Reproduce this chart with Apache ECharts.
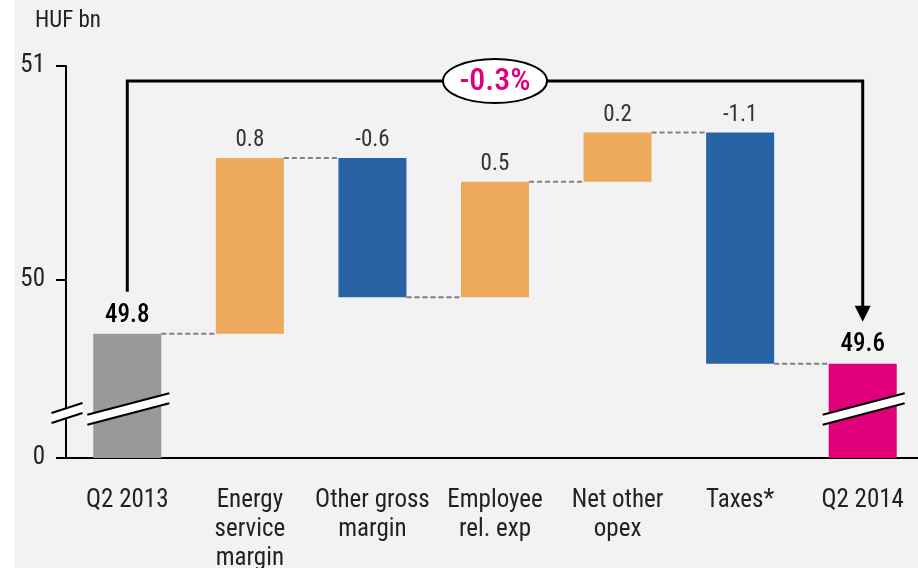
<!DOCTYPE html>
<html>
<head>
<meta charset="utf-8">
<script src="https://cdn.jsdelivr.net/npm/echarts@6/dist/echarts.min.js"></script>
<style>
  html, body { margin: 0; padding: 0; background: #fff; }
  #main { width: 918px; height: 568px; }
</style>
</head>
<body>
<div id="main"></div>
<script>
var categories = ['Q2 2013', 'Energy\nservice\nmargin', 'Other gross\nmargin', 'Employee\nrel. exp', 'Net other\nopex', 'Taxes*', 'Q2 2014'];
var valueLabels = ['49.8', '0.8', '-0.6', '0.5', '0.2', '-1.1', '49.6'];
// running total after each step, as drawn on the chart
var levels = [49.75, 50.57, 49.92, 50.46, 50.69, 49.61, 49.61];
var kinds = ['start', 'up', 'down', 'up', 'up', 'down', 'end'];
// broken axis: the bottom of the axis stands for 0
var axisMin = 49.17;
var axisMax = 51;
var tickValues = [49.17, 50, 51];
var tickLabels = ['0', '50', '51'];
var changeLabel = '-0.3%';

var FONT = '"Liberation Sans Narrow", "Roboto Condensed", "Liberation Sans", sans-serif';
var colors = { start: '#999999', up: '#eeaa5c', down: '#2763a5', end: '#e2007a' };

var barData = levels.map(function (v, i) {
    if (kinds[i] === 'start' || kinds[i] === 'end') return [i, axisMin, v];
    return [i, Math.min(levels[i - 1], v), Math.max(levels[i - 1], v)];
});

function breakBand(cx, cy, halfLen, slope) {
    var x1 = cx - halfLen, x2 = cx + halfLen;
    var y1 = cy + halfLen * slope, y2 = cy - halfLen * slope;
    var t = 5;
    return [
        { type: 'polygon', shape: { points: [[x1, y1 - t], [x2, y2 - t], [x2, y2 + t], [x1, y1 + t]] }, style: { fill: '#fff' }, z2: 20 },
        { type: 'line', shape: { x1: x1, y1: y1 - t, x2: x2, y2: y2 - t }, style: { stroke: '#000', lineWidth: 2 }, z2: 21 },
        { type: 'line', shape: { x1: x1, y1: y1 + t, x2: x2, y2: y2 + t }, style: { stroke: '#000', lineWidth: 2 }, z2: 21 }
    ];
}

var dom = document.getElementById('main');
var myChart = echarts.init(dom);
var option = {
    backgroundColor: '#fff',
    animation: false,
    title: {
        text: 'HUF bn',
        left: 30,
        top: 5,
        textStyle: { fontFamily: FONT, fontSize: 23, fontWeight: 'normal', color: '#222' }
    },
    grid: { left: 66, width: 858, top: 66, bottom: 110, outerBoundsMode: 'none', containLabel: false },
    xAxis: {
        type: 'category',
        data: categories,
        axisLine: { lineStyle: { color: '#000', width: 2 } },
        axisTick: { show: false },
        axisLabel: { fontFamily: FONT, fontSize: 25, color: '#222', lineHeight: 29, margin: 28, interval: 0 }
    },
    yAxis: {
        type: 'value',
        min: axisMin,
        max: axisMax,
        splitLine: { show: false },
        axisLine: { show: true, lineStyle: { color: '#000', width: 2 } },
        axisTick: { show: true, length: 10, lineStyle: { color: '#000', width: 2 }, customValues: tickValues },
        axisLabel: {
            fontFamily: FONT, fontSize: 25, color: '#222', margin: 21,
            customValues: tickValues,
            formatter: function (v) {
                var k = tickValues.indexOf(v);
                return k >= 0 ? tickLabels[k] : '';
            }
        }
    },
    series: [{
        type: 'custom',
        data: barData,
        encode: { x: 0, y: [1, 2] },
        clip: false,
        renderItem: function (params, api) {
            var i = api.value(0);
            var lo = api.coord([i, api.value(1)]);
            var hi = api.coord([i, api.value(2)]);
            var w = api.size([1, 0])[0] * 0.555;
            var kind = kinds[i];
            var children = [{
                type: 'rect',
                shape: { x: hi[0] - w / 2, y: hi[1], width: w, height: lo[1] - hi[1] },
                style: { fill: colors[kind] }
            }];
            var isTotal = kind === 'start' || kind === 'end';
            children.push({
                type: 'text',
                style: {
                    text: valueLabels[i], x: hi[0], y: hi[1] - 6,
                    align: 'center', verticalAlign: 'bottom',
                    fontFamily: FONT, fontSize: isTotal ? 25 : 23,
                    fontWeight: isTotal ? 500 : 'normal',
                    fill: isTotal ? '#000' : '#333'
                }
            });
            if (i > 0) {
                var p = api.coord([i - 1, levels[i - 1]]);
                children.push({
                    type: 'line',
                    shape: { x1: p[0] + w / 2, y1: p[1], x2: hi[0] - w / 2, y2: p[1] },
                    style: { stroke: '#808080', lineWidth: 2, lineDash: [5, 3] }
                });
            }
            if (isTotal) {
                children = children.concat(breakBand(hi[0] + 1, lo[1] - 49, 41, 0.26));
            }
            return { type: 'group', children: children };
        }
    }]
};
myChart.setOption(option, true);

// decorations: page panel, axis break and the overall-change bracket
var p0 = myChart.convertToPixel({ seriesIndex: 0 }, [0, levels[0]]);
var p6 = myChart.convertToPixel({ seriesIndex: 0 }, [6, levels[6]]);
var p3 = myChart.convertToPixel({ seriesIndex: 0 }, [3, axisMax]);
var pb = myChart.convertToPixel({ seriesIndex: 0 }, [0, axisMin]);
var axisX = 66;
var topY = p3[1] + 15;
var leftEnd = p0[1] - 42;
var tipY = p6[1] - 42;
var graphics = [
    { type: 'rect', left: 14, top: 0, shape: { width: 904, height: 568 }, style: { fill: '#f2f2f2' }, z: -10, silent: true },
    { type: 'polyline', shape: { points: [[p0[0], leftEnd], [p0[0], topY], [p6[0], topY], [p6[0], tipY - 15]] },
      style: { stroke: '#000', lineWidth: 3, fill: null }, z: 10 },
    { type: 'polygon', shape: { points: [[p6[0] - 8, tipY - 16], [p6[0] + 8, tipY - 16], [p6[0], tipY]] },
      style: { fill: '#000' }, z: 10 },
    { type: 'ellipse', shape: { cx: p3[0], cy: topY, rx: 52, ry: 22 },
      style: { fill: '#fff', stroke: '#000', lineWidth: 2 }, z: 11 },
    { type: 'text', x: p3[0], y: topY + 1, z: 12,
      style: { text: changeLabel, align: 'center', verticalAlign: 'middle', fontFamily: FONT,
               fontSize: 32, fontWeight: 500, fill: '#e2007a' } }
];
breakBand(axisX + 1, pb[1] - 45, 15.5, 0.32).forEach(function (g) {
    g.z = 10;
    graphics.push(g);
});
myChart.setOption({ graphic: graphics });
</script>
</body>
</html>
